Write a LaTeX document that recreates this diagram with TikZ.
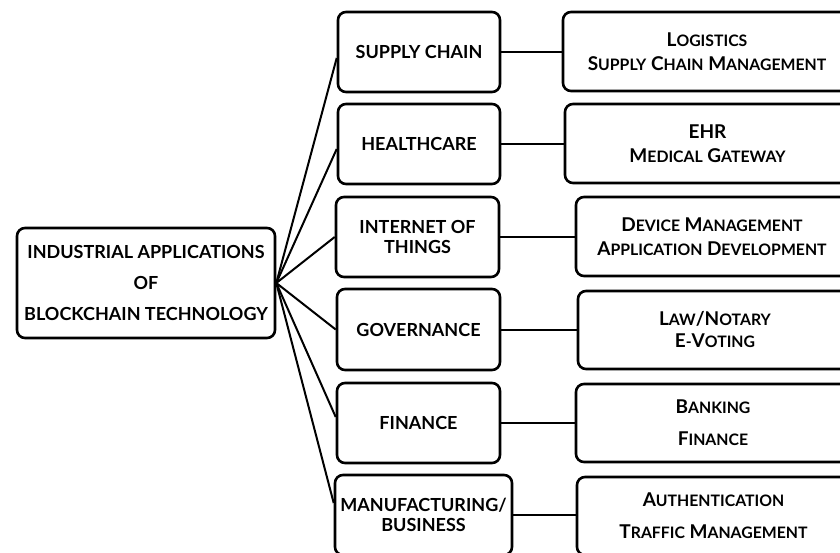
\documentclass[tikz,border=0pt]{standalone}
\usepackage{fontspec}
\setmainfont{Lato}
\newcommand\sct[2]{{\fontsize{19}{24}\selectfont #1}{\fontsize{15.8}{24}\selectfont #2}}
\tikzset{
  box/.style={draw=black, line width=2.6pt, rounded corners=8pt, fill=white,
    inner sep=0pt, align=center, font=\bfseries\fontsize{18}{20.5}\selectfont},
  rootbox/.style={box, font=\bfseries\fontsize{18}{31}\selectfont},
  rbox/.style={box, font=\bfseries\fontsize{19}{24}\selectfont},
  link/.style={draw=black, line width=2pt}
}
\begin{document}
\begin{tikzpicture}[x=1pt,y=-1pt]
\useasboundingbox (0,0) rectangle (840,553);
\clip (0,0) rectangle (840,553);
% root
\node[rootbox, minimum width=258pt, minimum height=110pt] (root) at (146,283)
  {INDUSTRIAL APPLICATIONS\\OF\\BLOCKCHAIN TECHNOLOGY};
% middle column
\node[box, minimum width=162pt, minimum height=80pt] (sc) at (419,52) {SUPPLY CHAIN};
\node[box, minimum width=162pt, minimum height=80pt] (hc) at (419,144) {HEALTHCARE};
\node[box, minimum width=163pt, minimum height=80pt] (iot) at (417.5,237) {INTERNET OF\\THINGS};
\node[box, minimum width=163pt, minimum height=81pt] (gov) at (418.5,329.5) {GOVERNANCE};
\node[box, minimum width=163pt, minimum height=80pt] (fin) at (418.5,423) {FINANCE};
\node[box, minimum width=177pt, minimum height=80pt] (man) at (423.5,515) {MANUFACTURING/\\BUSINESS};
% right column
\node[rbox, minimum width=288pt, minimum height=79pt] (r1) at (707,51.5)
  {\sct{L}{OGISTICS}\\\sct{S}{UPPLY} \sct{C}{HAIN} \sct{M}{ANAGEMENT}};
\node[rbox, minimum width=285pt, minimum height=79pt] (r2) at (707.5,143.5)
  {\sct{EHR}{}\\\sct{M}{EDICAL} \sct{G}{ATEWAY}};
\node[rbox, minimum width=272pt, minimum height=79pt] (r3) at (712,236.5)
  {\sct{D}{EVICE} \sct{M}{ANAGEMENT}\\\sct{A}{PPLICATION} \sct{D}{EVELOPMENT}};
\node[rbox, minimum width=274pt, minimum height=78pt] (r4) at (715,330)
  {\sct{L}{AW}/\sct{N}{OTARY}\\[-2pt]\sct{E}{-}\sct{V}{OTING}};
\node[rbox, minimum width=274pt, minimum height=78pt] (r5) at (713,423)
  {\sct{B}{ANKING}\\[8pt]\sct{F}{INANCE}};
\node[rbox, minimum width=273pt, minimum height=78pt] (r6) at (713.5,516)
  {\sct{A}{UTHENTICATION}\\[8pt]\sct{T}{RAFFIC} \sct{M}{ANAGEMENT}};
% fan connectors
\coordinate (fan) at (root.east);
\draw[link] (fan) -- ([yshift=-6pt]sc.west);
\draw[link] (fan) -- ([yshift=-5pt]hc.west);
\draw[link] (fan) -- (iot.west);
\draw[link] (fan) -- (gov.west);
\draw[link] (fan) -- ([yshift=6pt]fin.west);
\draw[link] (fan) -- ([yshift=12pt]man.west);
% horizontal connectors
\draw[link] (sc.east) -- (sc.east -| r1.west);
\draw[link] (hc.east) -- (hc.east -| r2.west);
\draw[link] (iot.east) -- (iot.east -| r3.west);
\draw[link] (gov.east) -- (gov.east -| r4.west);
\draw[link] (fin.east) -- (fin.east -| r5.west);
\draw[link] (man.east) -- (man.east -| r6.west);
\end{tikzpicture}
\end{document}
